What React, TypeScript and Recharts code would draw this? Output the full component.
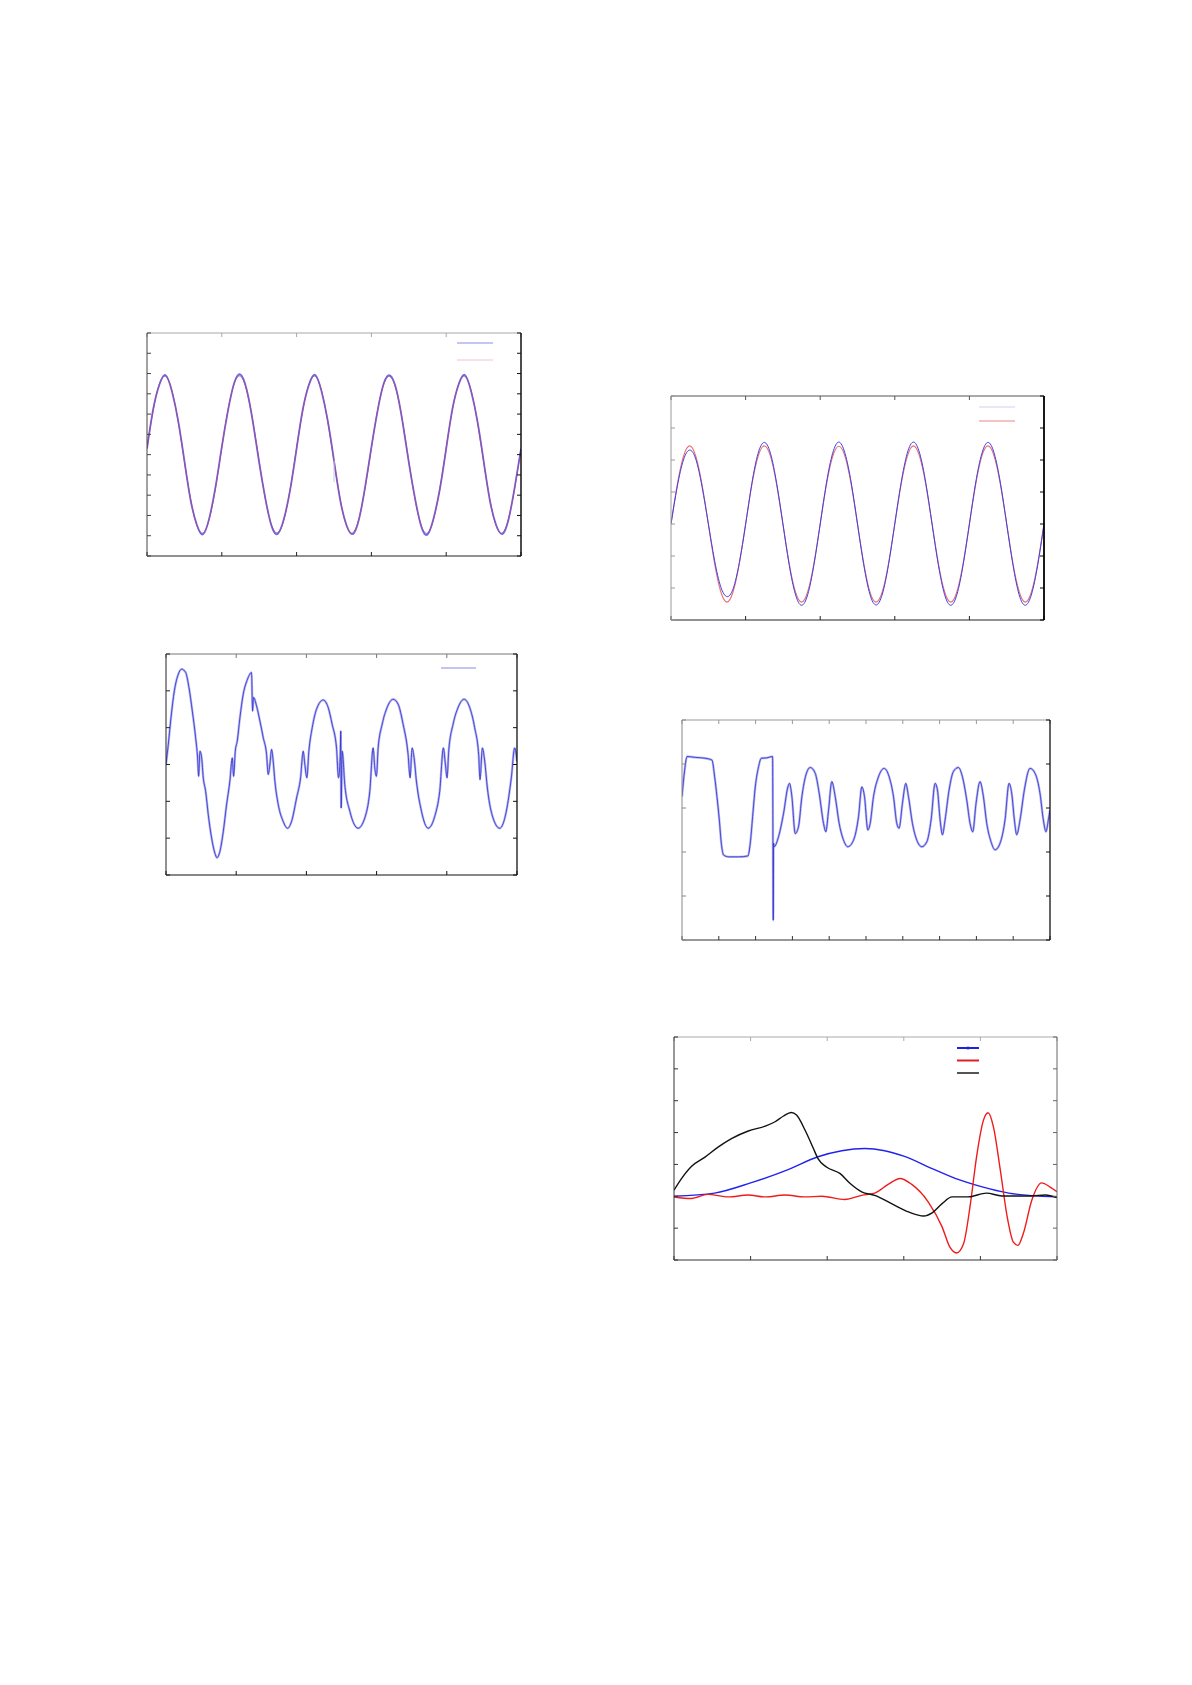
import React from 'react';
import { LineChart, Line, XAxis, YAxis, Legend } from 'recharts';

type Pt = [number, number];

// panel 1 (top left) - sampled 12 per period, 5 periods
const p1Fit = [
  0.34, 2.21, 3.5, 3.86, 3.16, 1.63, -0.34, -2.21, -3.5, -3.86, -3.16, -1.63,
  0.35, 2.22, 3.51, 3.87, 3.15, 1.62, -0.35, -2.22, -3.49, -3.85, -3.17, -1.64,
  0.34, 2.2, 3.5, 3.86, 3.16, 1.63, -0.33, -2.21, -3.51, -3.86, -3.16, -1.62,
  0.33, 2.21, 3.49, 3.85, 3.17, 1.64, -0.34, -2.2, -3.5, -3.87, -3.15, -1.63,
  0.34, 2.22, 3.5, 3.86, 3.16, 1.63, -0.34, -2.21, -3.5, -3.86, -3.16, -1.63,
  0.3,
];
const p1Meas = [
  0.3, 2.25, 3.46, 3.92, 3.12, 1.68, -0.3, -2.25, -3.46, -3.93, -3.12, -1.58,
  0.38, 2.18, 3.55, 3.95, 3.2, 1.58, -0.4, -2.18, -3.54, -3.9, -3.13, -1.68,
  0.3, 2.24, 3.46, 3.93, 3.12, 1.67, -0.29, -2.25, -3.47, -3.92, -3.2, -1.58,
  0.37, 2.17, 3.53, 3.9, 3.21, 1.6, -0.38, -2.16, -3.54, -3.94, -3.11, -1.67,
  0.3, 2.26, 3.46, 3.93, 3.12, 1.67, -0.3, -2.25, -3.46, -3.92, -3.2, -1.59,
  0.28,
];
const p1Glitch: Pt[] = [[2.5, -0.3], [2.5, -1.35]];

// panel 2 (top right)
const p2Meas = [
  0, 1.16, 2.0, 2.31, 2.02, 1.16, 0.02, -1.13, -1.96, -2.27, -2.02, -1.2,
  -0.02, 1.26, 2.2, 2.55, 2.21, 1.27, 0.01, -1.26, -2.19, -2.54, -2.2, -1.27,
  0, 1.28, 2.21, 2.56, 2.2, 1.28, 0, -1.27, -2.2, -2.53, -2.19, -1.26,
  0.01, 1.27, 2.21, 2.56, 2.21, 1.27, -0.01, -1.27, -2.2, -2.54, -2.2, -1.27,
  0, 1.28, 2.2, 2.55, 2.2, 1.27, 0, -1.27, -2.21, -2.54, -2.19, -1.27,
  0,
];
const p2Fit = [
  0, 1.22, 2.11, 2.44, 2.11, 1.22, 0, -1.22, -2.11, -2.44, -2.11, -1.22,
  0, 1.22, 2.11, 2.44, 2.12, 1.22, 0, -1.22, -2.11, -2.44, -2.11, -1.22,
  0, 1.22, 2.11, 2.43, 2.11, 1.22, 0, -1.22, -2.12, -2.44, -2.11, -1.22,
  0, 1.22, 2.11, 2.44, 2.11, 1.22, 0, -1.22, -2.11, -2.44, -2.11, -1.22,
  0, 1.22, 2.12, 2.44, 2.11, 1.22, 0, -1.22, -2.11, -2.44, -2.11, -1.22,
  0,
];

// panel 3 (middle left) - distorted trace
const p3Trace: Pt[] = [
  [0, 0], [0.033, 0.55], [0.071, 1.27], [0.119, 2.0], [0.175, 2.45], [0.223, 2.59],
  [0.28, 2.5], [0.327, 2.09], [0.375, 1.45], [0.422, 0.73], [0.45, 0.18], [0.465, -0.32],
  [0.484, 0.36], [0.508, 0.18], [0.531, -0.36], [0.565, -0.73], [0.602, -1.36], [0.65, -2.0],
  [0.697, -2.41], [0.726, -2.53], [0.768, -2.36], [0.816, -1.82], [0.863, -1.09], [0.91, -0.45],
  [0.944, 0.18], [0.963, -0.32], [0.987, 0.36], [1.015, 0.64], [1.053, 1.27], [1.1, 1.91],
  [1.162, 2.32], [1.219, 2.5], [1.233, 1.45], [1.248, 1.82], [1.29, 1.59], [1.338, 1.18],
  [1.385, 0.73], [1.433, 0.27], [1.456, -0.27], [1.48, 0], [1.504, 0.41], [1.527, 0.09],
  [1.551, -0.45], [1.599, -1.09], [1.67, -1.55], [1.731, -1.73], [1.788, -1.55], [1.86, -0.91],
  [1.917, -0.36], [1.954, 0.36], [1.978, 0], [2.007, -0.36], [2.035, 0.36], [2.083, 1.0],
  [2.144, 1.5], [2.239, 1.75], [2.31, 1.55], [2.367, 1.09], [2.429, 0.45], [2.457, -0.36],
  [2.481, 0.18], [2.49, 0.91], [2.495, -1.18], [2.51, 0.36], [2.547, -0.55], [2.619, -1.27],
  [2.737, -1.73], [2.832, -1.45], [2.903, -0.73], [2.951, 0.45], [2.974, -0.09], [2.998, -0.32],
  [3.022, 0.45], [3.079, 1.09], [3.15, 1.55], [3.235, 1.77], [3.306, 1.64], [3.378, 1.09],
  [3.449, 0.27], [3.477, -0.36], [3.506, 0.45], [3.534, 0.18], [3.567, -0.45], [3.639, -1.27],
  [3.734, -1.73], [3.828, -1.41], [3.899, -0.73], [3.952, 0.45], [3.98, 0], [4.004, -0.36],
  [4.027, 0.36], [4.089, 1.09], [4.161, 1.55], [4.246, 1.77], [4.326, 1.55], [4.397, 1.0],
  [4.454, 0.27], [4.473, -0.41], [4.507, 0.45], [4.54, 0.09], [4.578, -0.64], [4.644, -1.36],
  [4.753, -1.73], [4.848, -1.27], [4.919, -0.36], [4.967, 0.45], [5.0, 0.09],
];

// panel 4 (middle right)
const p4Trace: Pt[] = [
  [0, 3.26], [0.072, 3.86], [0.136, 4.17], [0.362, 4.15], [0.633, 4.13], [0.814, 4.09],
  [0.887, 3.71], [0.95, 3.26], [1.014, 2.73], [1.068, 2.2], [1.131, 1.93], [1.267, 1.89],
  [1.538, 1.89], [1.792, 1.91], [1.855, 2.2], [1.919, 2.8], [1.991, 3.48], [2.081, 3.94],
  [2.154, 4.13], [2.308, 4.14], [2.462, 4.17], [2.48, 0.45], [2.489, 2.2], [2.507, 2.12],
  [2.624, 2.35], [2.76, 2.88], [2.878, 3.48], [2.923, 3.56], [2.986, 3.26], [3.077, 2.42],
  [3.167, 2.58], [3.258, 3.26], [3.367, 3.75], [3.484, 3.92], [3.62, 3.79], [3.729, 3.33],
  [3.846, 2.65], [3.91, 2.46], [3.982, 2.95], [4.072, 3.6], [4.163, 3.26], [4.271, 2.65],
  [4.389, 2.27], [4.507, 2.12], [4.661, 2.27], [4.796, 2.8], [4.887, 3.48], [4.959, 3.26],
  [5.05, 2.5], [5.113, 2.65], [5.204, 3.26], [5.339, 3.71], [5.493, 3.9], [5.629, 3.71],
  [5.747, 3.26], [5.837, 2.65], [5.9, 2.54], [5.991, 3.11], [6.081, 3.56], [6.154, 3.26],
  [6.262, 2.65], [6.38, 2.27], [6.516, 2.12], [6.652, 2.23], [6.769, 2.73], [6.878, 3.56],
  [6.941, 3.41], [7.014, 2.73], [7.077, 2.39], [7.149, 2.73], [7.258, 3.41], [7.376, 3.83],
  [7.511, 3.92], [7.62, 3.71], [7.738, 3.18], [7.828, 2.65], [7.9, 2.46], [7.991, 3.11],
  [8.1, 3.6], [8.19, 3.26], [8.281, 2.65], [8.398, 2.23], [8.507, 2.05], [8.643, 2.2],
  [8.778, 2.73], [8.887, 3.56], [8.96, 3.33], [9.032, 2.73], [9.095, 2.39], [9.186, 2.73],
  [9.303, 3.41], [9.457, 3.9], [9.593, 3.79], [9.729, 3.33], [9.819, 2.73], [9.891, 2.46],
  [9.955, 2.73], [10, 2.95],
];

// panel 5 (bottom right)
const p5Blue: Pt[] = [
  [0, 0], [0.53, 0.1], [1.0, 0.42], [1.49, 0.84], [1.88, 1.24], [2.19, 1.43], [2.49, 1.5],
  [2.75, 1.43], [3.0, 1.26], [3.37, 0.87], [3.67, 0.56], [4.0, 0.31], [4.37, 0.1],
  [4.67, 0.02], [5.0, -0.02],
];
const p5Red: Pt[] = [
  [0, -0.02], [0.227, -0.07], [0.44, 0.06], [0.71, -0.02], [0.97, 0.04], [1.19, -0.02],
  [1.45, 0.04], [1.71, -0.02], [1.93, 0], [2.23, -0.1], [2.45, 0.03], [2.62, 0.1],
  [2.8, 0.38], [2.95, 0.56], [3.1, 0.38], [3.32, -0.18], [3.5, -0.96], [3.6, -1.59],
  [3.69, -1.78], [3.78, -1.49], [3.87, -0.23], [3.95, 1.24], [4.04, 2.39], [4.1, 2.62],
  [4.17, 2.18], [4.26, 0.82], [4.35, -0.65], [4.43, -1.44], [4.49, -1.54], [4.56, -1.17],
  [4.67, -0.13], [4.8, 0.42], [4.91, 0.29], [5.0, 0.14],
];
const p5Black: Pt[] = [
  [0, 0.19], [0.1, 0.56], [0.23, 0.94], [0.4, 1.22], [0.58, 1.55], [0.75, 1.81],
  [0.97, 2.05], [1.19, 2.2], [1.32, 2.34], [1.43, 2.52], [1.53, 2.63], [1.6, 2.55],
  [1.71, 2.08], [1.82, 1.5], [1.88, 1.18], [1.99, 0.92], [2.17, 0.71], [2.3, 0.4],
  [2.45, 0.14], [2.62, 0.03], [2.84, -0.23], [3.06, -0.49], [3.26, -0.62], [3.37, -0.52],
  [3.5, -0.23], [3.63, -0.02], [3.84, -0.02], [4.08, 0.1], [4.28, 0.01], [4.67, 0.01],
  [4.85, 0.04], [5.0, -0.04],
];

const ticks5 = [0, 1, 2, 3, 4, 5];
const ticks10 = [0, 1, 2, 3, 4, 5, 6, 7, 8, 9, 10];
const range = (a: number, b: number) => Array.from({ length: b - a + 1 }, (_, i) => a + i);

const bySample = (vals: number[]) => vals.map((y, i) => ({ x: i / 12, y }));
const byPair = (pts: Pt[]) => pts.map(([x, y]) => ({ x, y }));

const PAD = 6;
const noLabel = () => <g />;

type Box = { left: number; top: number; w: number; h: number };
type Swatch = { color: string; width: number; dot?: boolean };
type Key = { x: number; y: number; gap: number; len: number; items: Swatch[] };

const Swatches = ({ k }: { k: Key }) => (
  <svg width={k.len + 2} height={k.gap * k.items.length + 4} style={{ display: 'block' }}>
    {k.items.map((s, i) => (
      <g key={i}>
        <line x1={1} x2={k.len + 1} y1={4 + i * k.gap} y2={4 + i * k.gap} stroke={s.color} strokeWidth={s.width} />
        {s.dot && <circle cx={k.len / 2 + 1} cy={4 + i * k.gap} r={1.6} fill={s.color} />}
      </g>
    ))}
  </svg>
);

// edge colours: top, right, bottom, left
const Panel = ({
  box, xMax, xTicks, yDom, yTicks, edge, rightW = 1, legend, children,
}: {
  box: Box; xMax: number; xTicks: number[]; yDom: [number, number]; yTicks: number[];
  edge: string[]; rightW?: number; legend?: Key; children: React.ReactNode;
}) => (
  <div style={{ position: 'absolute', left: box.left - PAD, top: box.top - PAD }}>
    <LineChart width={box.w + 2 * PAD} height={box.h + 2 * PAD} margin={{ top: 0, right: 0, bottom: 0, left: 0 }}>
      <XAxis xAxisId="b" type="number" dataKey="x" domain={[0, xMax]} ticks={xTicks} interval={0}
        allowDataOverflow height={PAD} tick={noLabel} tickSize={-4}
        axisLine={{ stroke: edge[2] }} tickLine={{ stroke: edge[2] }} />
      <XAxis xAxisId="t" orientation="top" type="number" dataKey="x" domain={[0, xMax]} ticks={xTicks} interval={0}
        allowDataOverflow height={PAD} tick={noLabel} tickSize={-4}
        axisLine={{ stroke: edge[0] }} tickLine={{ stroke: edge[0] }} />
      <YAxis yAxisId="l" type="number" domain={yDom} ticks={yTicks} interval={0}
        allowDataOverflow width={PAD} tick={noLabel} tickSize={-4}
        axisLine={{ stroke: edge[3] }} tickLine={{ stroke: edge[3] }} />
      <YAxis yAxisId="r" orientation="right" type="number" domain={yDom} ticks={yTicks} interval={0}
        allowDataOverflow width={PAD} tick={noLabel} tickSize={-4}
        axisLine={{ stroke: edge[1], strokeWidth: rightW }} tickLine={{ stroke: edge[1] }} />
      {children}
      {legend && (
        <Legend layout="vertical" align="center" verticalAlign="middle"
          wrapperStyle={{ left: legend.x - box.left + PAD, top: legend.y - box.top + PAD - 4, width: legend.len + 2 }}
          content={() => <Swatches k={legend} />} />
      )}
    </LineChart>
  </div>
);

const ln = { xAxisId: 'b', yAxisId: 'l', dataKey: 'y', dot: false, isAnimationActive: false, legendType: 'none' as const };

export default function App() {
  return (
    <div style={{ position: 'absolute', left: 0, top: 0, width: 1192, height: 1685, background: '#fff' }}>
      <Panel box={{ left: 147, top: 333, w: 374, h: 223 }} xMax={5} xTicks={ticks5} yDom={[-5, 6]} yTicks={range(-5, 6)}
        edge={['#a8a8a8', '#111', '#222', '#444']} rightW={1.5}
        legend={{ x: 456, y: 343, gap: 17, len: 36, items: [{ color: '#c4c4f6', width: 2.2 }, { color: '#f0c4cc', width: 1 }] }}>
        <Line {...ln} data={bySample(p1Meas)} type="natural" stroke="#6a6ae8" strokeWidth={1.8} />
        <Line {...ln} data={bySample(p1Fit)} type="natural" stroke="#a8488c" strokeWidth={0.9} />
        <Line {...ln} data={byPair(p1Glitch)} type="linear" stroke="#c8c8d8" strokeWidth={1} />
      </Panel>

      <Panel box={{ left: 671, top: 396, w: 373, h: 224 }} xMax={5} xTicks={ticks5} yDom={[-3, 4]} yTicks={range(-3, 4)}
        edge={['#555', '#000', '#222', '#999']} rightW={1.8}
        legend={{ x: 978, y: 407, gap: 14, len: 36, items: [{ color: '#cfcff2', width: 1 }, { color: '#e88888', width: 1.2 }] }}>
        <Line {...ln} data={bySample(p2Fit)} type="natural" stroke="#ea6f6f" strokeWidth={1.1} />
        <Line {...ln} data={bySample(p2Meas)} type="natural" stroke="#4040e4" strokeWidth={1} />
      </Panel>

      <Panel box={{ left: 166, top: 654, w: 351, h: 221 }} xMax={5} xTicks={ticks5} yDom={[-3, 3]} yTicks={range(-3, 3)}
        edge={['#777', '#111', '#111', '#222']} rightW={1.3}
        legend={{ x: 440, y: 668, gap: 12, len: 35, items: [{ color: '#8a8ae6', width: 1 }] }}>
        <Line {...ln} data={byPair(p3Trace)} type="monotone" stroke="#b8b8f2" strokeWidth={2.4} />
        <Line {...ln} data={byPair(p3Trace)} type="monotone" stroke="#2a2acc" strokeWidth={0.8} />
      </Panel>

      <Panel box={{ left: 682, top: 720, w: 368, h: 220 }} xMax={10} xTicks={ticks10} yDom={[0, 5]} yTicks={range(0, 5)}
        edge={['#999', '#111', '#333', '#888']} rightW={1.3}>
        <Line {...ln} data={byPair(p4Trace)} type="monotone" stroke="#b8b8f2" strokeWidth={2.4} />
        <Line {...ln} data={byPair(p4Trace)} type="monotone" stroke="#2a2acc" strokeWidth={0.8} />
      </Panel>

      <Panel box={{ left: 674, top: 1037, w: 383, h: 223 }} xMax={5} xTicks={ticks5} yDom={[-2, 5]} yTicks={range(-2, 5)}
        edge={['#aaa', '#666', '#333', '#333']}
        legend={{ x: 956, y: 1048, gap: 12.5, len: 22, items: [
          { color: '#2020e0', width: 2, dot: true }, { color: '#e02020', width: 2 }, { color: '#555', width: 2 },
        ] }}>
        <Line {...ln} data={byPair(p5Blue)} type="monotone" stroke="#2222ee" strokeWidth={1.4} />
        <Line {...ln} data={byPair(p5Red)} type="monotone" stroke="#ee1c1c" strokeWidth={1.4} />
        <Line {...ln} data={byPair(p5Black)} type="monotone" stroke="#111" strokeWidth={1.4} />
      </Panel>
    </div>
  );
}
